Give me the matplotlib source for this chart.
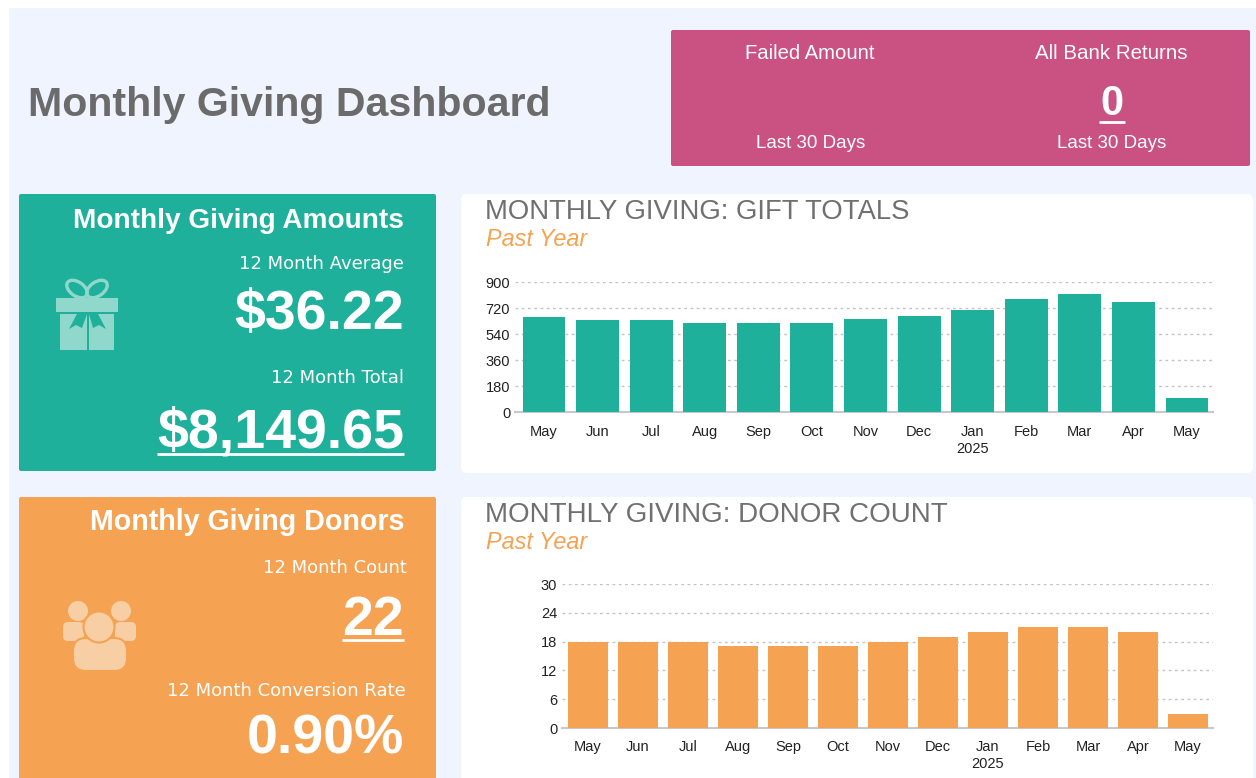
import matplotlib
matplotlib.use("Agg")
import matplotlib.pyplot as plt
from matplotlib.patches import Rectangle, FancyBboxPatch, Circle, Ellipse, Polygon

plt.rcParams['font.family'] = ['Liberation Sans', 'DejaVu Sans']

months = ['May', 'Jun', 'Jul', 'Aug', 'Sep', 'Oct', 'Nov', 'Dec', 'Jan\n2025', 'Feb', 'Mar', 'Apr', 'May']
gift_totals = [658, 637, 637, 616, 616, 616, 644, 665, 706, 782, 817, 762, 97]
donor_counts = [18, 18, 18, 17, 17, 17, 18, 19, 20, 21, 21, 20, 3]
gift_ticks = [0, 180, 360, 540, 720, 900]
donor_ticks = [0, 6, 12, 18, 24, 30]

W, H = 1256, 778
BG, TEAL, ORANGE, PINK = '#f0f4ff', '#1eb09a', '#f5a352', '#c95282'
GREY = '#6b6b6b'

fig = plt.figure(figsize=(W / 100, H / 100), dpi=100, facecolor='white')
base = fig.add_axes([0, 0, 1, 1])
base.set_xlim(0, W)
base.set_ylim(H, 0)
base.axis('off')


def box(x0, y0, x1, y1, color, z=1):
    base.add_patch(Rectangle((x0, y0), x1 - x0, y1 - y0, fc=color, ec='none', zorder=z))


def rbox(x0, y0, x1, y1, color, r=4, z=1, **kw):
    base.add_patch(FancyBboxPatch((x0, y0), x1 - x0, y1 - y0,
                                  boxstyle=f'round,pad=0,rounding_size={r}',
                                  fc=color, ec=kw.pop('ec', 'none'), zorder=z, **kw))


def label(x, y, s, size, color='white', ha='right', **kw):
    base.text(x, y, s, fontsize=size, color=color, ha=ha, va='center', zorder=6, **kw)


def small(x, y, s):
    label(x, y, s, 13, family='DejaVu Sans')


def rule(x0, x1, y):
    base.plot([x0, x1], [y, y], color='white', lw=2, zorder=6, solid_capstyle='butt')


box(9, 8, W, H, BG, 0)
rbox(671, 30, 1250, 166, PINK, 2)
rbox(19, 194, 436, 471, TEAL, 2)
rbox(19, 497, 436, H + 10, ORANGE, 2)
rbox(461, 194, 1253, 473, 'white', 6)
rbox(461, 497, 1253, H + 10, 'white', 6)

label(28, 105, 'Monthly Giving Dashboard', 29.6, GREY, 'left', fontweight='bold')

label(810, 53, 'Failed Amount', 14.6, ha='center')
label(811, 143, 'Last 30 Days', 13.5, ha='center')
label(1111, 53, 'All Bank Returns', 14.8, ha='center')
label(1112, 104, '0', 30, ha='center', fontweight='bold')
rule(1099, 1125, 122)
label(1112, 143, 'Last 30 Days', 13.5, ha='center')

label(404, 221, 'Monthly Giving Amounts', 20.2, fontweight='bold')
small(404, 264, '12 Month Average')
label(404, 315, '$36.22', 40, fontweight='bold')
small(404, 378, '12 Month Total')
label(404, 433, '$8,149.65', 40, fontweight='bold')
rule(157, 404, 453.5)

label(404, 522, 'Monthly Giving Donors', 20.6, fontweight='bold')
small(407, 568, '12 Month Count')
label(404, 621, '22', 40, fontweight='bold')
rule(342, 404, 640)
small(406, 691, '12 Month Conversion Rate')
label(404, 739, '0.90%', 40, fontweight='bold')

# gift icon
ICON_T = '#8fd8cb'
box(56, 298, 118, 312, ICON_T, 3)
box(60, 314, 87, 350, ICON_T, 3)
box(88.5, 314, 114, 350, ICON_T, 3)
base.add_patch(Ellipse((77, 289), 23, 14, angle=35, fc='none', ec=ICON_T, lw=2.4, zorder=3))
base.add_patch(Ellipse((97, 289), 23, 14, angle=-35, fc='none', ec=ICON_T, lw=2.4, zorder=3))
base.add_patch(Polygon([[69, 329], [77, 314], [87, 314], [82, 328], [76, 325]], fc=TEAL, ec='none', zorder=4))
base.add_patch(Polygon([[106, 329], [98, 314], [89, 314], [93, 328], [99, 325]], fc=TEAL, ec='none', zorder=4))

# people icon
ICON_O = '#f8cfa5'
for cx in (78, 121):
    base.add_patch(Circle((cx, 611), 10, fc=ICON_O, ec='none', zorder=3))
rbox(63, 622, 84, 641, ICON_O, 5, 3)
rbox(115, 622, 136, 641, ICON_O, 5, 3)
rbox(73, 638, 127, 671, ICON_O, 13, 4, ec=ORANGE, lw=1.5)
base.add_patch(Circle((99, 627), 15.5, fc=ICON_O, ec=ORANGE, lw=1.5, zorder=5))


def chart(title, title_size, title_y, values, ticks, color, ax_px, first_c, last_c, bar_frac, xpad, ypad):
    x0, x1, ytop, ybot = ax_px
    label(485, title_y, title, title_size, '#707070', 'left')
    label(486, title_y + 27.5, 'Past Year', 16.8, '#f5a352', 'left', fontstyle='italic')
    ax = fig.add_axes([x0 / W, 1 - ybot / H, (x1 - x0) / W, (ybot - ytop) / H], zorder=3)
    ax.patch.set_alpha(0)
    step = (last_c - first_c) / 12
    ax.set_xlim((x0 - first_c) / step, (x1 - first_c) / step)
    ax.set_ylim(0, ticks[-1])
    pos = list(range(len(values)))
    ax.bar(pos, values, width=bar_frac, color=color, zorder=3)
    ax.set_yticks(ticks)
    ax.set_xticks(pos)
    ax.set_xticklabels(months, linespacing=1.25)
    ax.tick_params(axis='both', length=0, labelsize=10.5, labelcolor='#222222')
    ax.tick_params(axis='x', pad=xpad)
    ax.tick_params(axis='y', pad=ypad)
    ax.grid(axis='y', color='#c4c4c4', lw=1, ls=(0, (2, 2.5)), zorder=0)
    ax.set_axisbelow(True)
    for side in ('top', 'right', 'left'):
        ax.spines[side].set_visible(False)
    ax.spines['bottom'].set_color('#c8c8c8')
    ax.spines['bottom'].set_linewidth(1.5)


chart('MONTHLY GIVING: GIFT TOTALS', 19.8, 212, gift_totals, gift_ticks, TEAL, (515, 1213, 282, 412), 544, 1187, 0.80, 9.5, 3.5)
chart('MONTHLY GIVING: DONOR COUNT', 20, 515, donor_counts, donor_ticks, ORANGE, (562, 1213, 584, 728), 588, 1188, 0.80, 8.5, 3.5)

fig.savefig('out.png', dpi=100, facecolor='white')
